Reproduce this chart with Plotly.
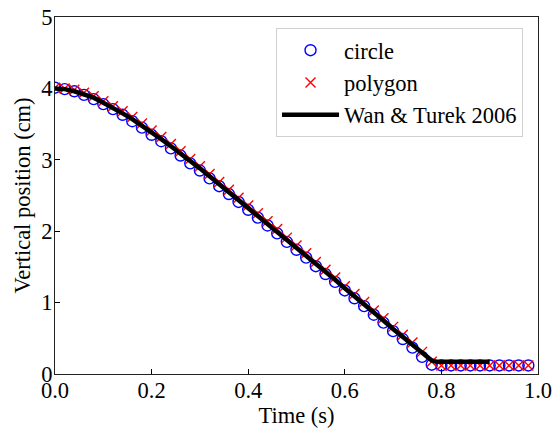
import plotly.graph_objects as go

# ---- data ----
t_markers = [round(0.02 * i, 2) for i in range(50)]
circle_y = [4.01, 3.99, 3.96, 3.91, 3.85, 3.78, 3.71, 3.63, 3.54, 3.45,
            3.35, 3.26, 3.16, 3.06, 2.95, 2.85, 2.74, 2.63, 2.52, 2.41,
            2.30, 2.19, 2.08, 1.97, 1.85, 1.74, 1.63, 1.51, 1.40, 1.29,
            1.17, 1.06, 0.95, 0.83, 0.72, 0.60, 0.49, 0.37, 0.24, 0.13,
            0.12, 0.12, 0.12, 0.12, 0.12, 0.12, 0.12, 0.12, 0.12, 0.12]
polygon_y = [4.01, 4.00, 3.98, 3.94, 3.89, 3.82, 3.75, 3.68, 3.60, 3.51,
             3.41, 3.32, 3.22, 3.12, 3.01, 2.91, 2.80, 2.69, 2.58, 2.47,
             2.36, 2.25, 2.14, 2.03, 1.91, 1.80, 1.69, 1.57, 1.46, 1.35,
             1.23, 1.12, 1.01, 0.89, 0.78, 0.66, 0.55, 0.44, 0.31, 0.17,
             0.12, 0.12, 0.12, 0.12, 0.12, 0.12, 0.12, 0.12, 0.12, 0.12]
t_ref = [0.0, 0.02, 0.04, 0.06, 0.08, 0.10, 0.12, 0.14, 0.16, 0.18, 0.20,
         0.22, 0.24, 0.26, 0.28, 0.30, 0.32, 0.34, 0.36, 0.38, 0.40,
         0.42, 0.44, 0.46, 0.48, 0.50, 0.52, 0.54, 0.56, 0.58, 0.60,
         0.62, 0.64, 0.66, 0.68, 0.70, 0.72, 0.74, 0.76, 0.78, 0.79, 0.80, 0.90]
ref_y = [4.00, 3.99, 3.96, 3.92, 3.87, 3.80, 3.73, 3.65, 3.57, 3.48, 3.38,
         3.29, 3.19, 3.09, 2.98, 2.88, 2.77, 2.66, 2.55, 2.44, 2.33,
         2.22, 2.11, 2.00, 1.88, 1.77, 1.66, 1.54, 1.43, 1.32, 1.20,
         1.09, 0.98, 0.86, 0.75, 0.63, 0.52, 0.41, 0.29, 0.19, 0.17, 0.17, 0.17]

x_ticks = [0.0, 0.2, 0.4, 0.6, 0.8, 1.0]
y_ticks = [0, 1, 2, 3, 4, 5]

FONT = "Liberation Serif"
FS = 22.5

fig = go.Figure()
fig.add_trace(go.Scatter(
    x=t_markers, y=circle_y, mode="markers", name="circle",
    marker=dict(symbol="circle-open", size=11, color="#0000ff",
                line=dict(width=1.4, color="#0000ff")),
))
fig.add_trace(go.Scatter(
    x=t_markers, y=polygon_y, mode="markers", name="polygon",
    marker=dict(symbol="x-thin-open", size=10, color="#ff0000",
                line=dict(width=1.4, color="#ff0000")),
))
fig.add_trace(go.Scatter(
    x=t_ref, y=ref_y, mode="lines", name="Wan & Turek 2006",
    line=dict(color="black", width=4.5),
))

axis_common = dict(
    showline=True, linecolor="#222222", linewidth=1.2, mirror=True,
    ticks="inside", ticklen=5, tickwidth=1, tickcolor="black",
    showgrid=False, zeroline=False, automargin=False,
    tickfont=dict(family=FONT, size=FS, color="black"),
)

fig.update_xaxes(
    range=[0, 1.0], tickvals=x_ticks,
    ticktext=[f"{v:.1f}" for v in x_ticks],
    ticklabelstandoff=-4,
    title=dict(text="Time (s)", font=dict(family=FONT, size=FS, color="black"), standoff=0),
    **axis_common,
)
fig.update_yaxes(
    range=[0, 5], tickvals=y_ticks,
    ticktext=[str(v) for v in y_ticks],
    ticklabelstandoff=-3,
    title=dict(text="Vertical position (cm)", font=dict(family=FONT, size=FS, color="black"), standoff=4),
    **axis_common,
)

fig.update_layout(
    width=554, height=430,
    margin=dict(l=55, r=16, t=17, b=56),
    plot_bgcolor="white", paper_bgcolor="white",
    font=dict(family=FONT, size=FS, color="black"),
    legend=dict(
        x=0.4576, y=0.969, xanchor="left", yanchor="top",
        bgcolor="white", bordercolor="#d0d0d0", borderwidth=1,
        font=dict(family=FONT, size=FS, color="black"),
        tracegroupgap=0, itemwidth=57,
    ),
    showlegend=True,
)

fig.write_html("out.html")
